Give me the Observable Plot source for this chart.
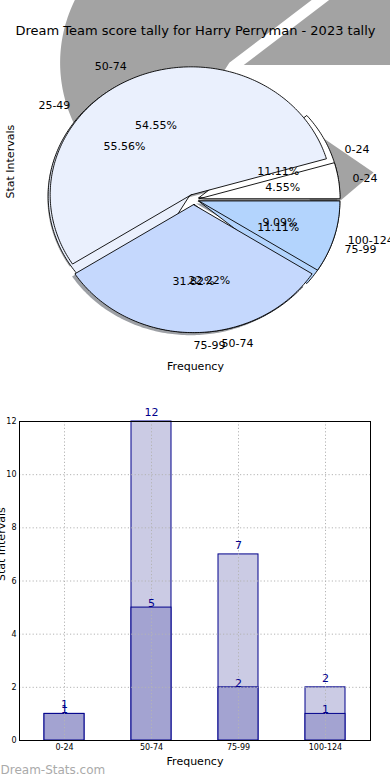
<!DOCTYPE html>
<html><head><meta charset="utf-8">
<script src="https://cdn.jsdelivr.net/npm/d3@7"></script>
<script src="https://cdn.jsdelivr.net/npm/@observablehq/plot@0.6"></script>
<style>
html,body{margin:0;padding:0;background:#fff;overflow:hidden;width:390px;height:780px;}
#pie,#bars{position:absolute;left:0;width:390px;height:390px;overflow:hidden;}
#pie{top:0}#bars{top:390px}
</style></head><body><div id="pie"></div><div id="bars"></div>
<script>
// ---------- data ----------
const categories = ["0-24", "50-74", "75-99", "100-124"];
const seasonTally = [1, 12, 7, 2];      // lighter bars, outer pie (22 scores)
const recentTally = [1, 5, 2, 1];       // darker bars, inner pie (9 scores)
const pieLabelsSeason = ["0-24", "50-74", "75-99", "100-124"];
const pieLabelsRecent = ["0-24", "25-49", "50-74", "75-99"];
const wedgeColors = ["#ffffff", "#eaf0fd", "#c5d8fd", "#b3d4fd"];
const yTicks = [0, 2, 4, 6, 8, 10, 12];
const title = "Dream Team score tally for Harry Perryman - 2023 tally";
const xLabel = "Frequency";
const yLabel = "Stat Intervals";
const watermark = "Dream-Stats.com";

const FONT = "DejaVu Sans, sans-serif";

// ---------- pie geometry (unit circle coordinates) ----------
function wedges(values, {cx = 0, cy = 0, s = 1, explode = 0, a0 = 0, span = 360} = {}) {
  const total = d3.sum(values);
  let acc = 0;
  return values.map((v, i) => {
    const t1 = a0 + acc / total * span; acc += v; const t2 = a0 + acc / total * span;
    const mid = (t1 + t2) / 2 * Math.PI / 180;
    const ox = cx + explode * s * Math.cos(mid), oy = cy + explode * s * Math.sin(mid);
    const pts = [[ox, oy]];
    const n = Math.max(2, Math.ceil(Math.abs(t2 - t1)));
    for (let k = 0; k <= n; k++) {
      const a = (t1 + (t2 - t1) * k / n) * Math.PI / 180;
      pts.push([ox + s * Math.cos(a), oy + s * Math.sin(a)]);
    }
    pts.push([ox, oy]);
    return {i, v, frac: v / total, t1, t2, mid, ox, oy, pts};
  });
}

const EXP = 0.04;
const pieSeason = wedges(seasonTally, {explode: EXP});
const pieRecent = wedges(recentTally, {explode: EXP});
// the recent pie's shadow is displaced: enlarged at the top and a reflected sliver at the right
const recentFrac0 = recentTally[0] / d3.sum(recentTally);
const bigShadow = wedges(recentTally, {cx: 0.30, cy: 1.03, s: 1.2, explode: 0.05}).slice(0, 2);
const tipShadow = wedges([recentTally[0]], {cx: 1.277, cy: 0.211, s: 0.5, a0: 183 - recentFrac0 * 360, span: 2 * recentFrac0 * 360});

function shade(c) { const r = d3.rgb(c); return d3.rgb(r.r * 0.3, r.g * 0.3, r.b * 0.3).formatHex(); }
const lineXY = {x: d => d[0], y: d => d[1]};

const wedgeMarks = [];
for (const w of bigShadow) wedgeMarks.push(Plot.line(w.pts, {...lineXY, fill: "#a3a3a3", stroke: "none"}));
for (const w of tipShadow) wedgeMarks.push(Plot.line(w.pts, {...lineXY, fill: "#a3a3a3", stroke: "none"}));
for (const w of pieSeason) {
  const pts = w.pts.map(([x, y]) => [x - 0.02, y - 0.02]);
  wedgeMarks.push(Plot.line(pts, {...lineXY, fill: shade(wedgeColors[w.i]), fillOpacity: 0.5, stroke: "none"}));
}
for (const w of pieRecent) wedgeMarks.push(Plot.line(w.pts, {...lineXY, fill: wedgeColors[w.i], stroke: "black", strokeWidth: 0.9}));
for (const w of pieSeason) wedgeMarks.push(Plot.line(w.pts, {...lineXY, fill: wedgeColors[w.i], stroke: "black", strokeWidth: 0.9}));

function labelRows(ws, names) {
  return ws.map(w => ({
    x: w.ox + 1.1 * Math.cos(w.mid), y: w.oy + 1.1 * Math.sin(w.mid), text: names[w.i],
    px: w.ox + 0.6 * Math.cos(w.mid), py: w.oy + 0.6 * Math.sin(w.mid), pct: (w.frac * 100).toFixed(2) + "%"
  }));
}
const labels = [...labelRows(pieRecent, pieLabelsRecent), ...labelRows(pieSeason, pieLabelsSeason)];

const C = {cx: 193, cy: 199, rx: 141, ry: 128};
const piePlot = Plot.plot({
  width: 390, height: 390, margin: 0,
  x: {domain: [-C.cx / C.rx, (390 - C.cx) / C.rx], axis: null},
  y: {domain: [(C.cy - 390) / C.ry, C.cy / C.ry], axis: null},
  style: {fontFamily: FONT, fontSize: "11px", overflow: "hidden", background: "white"},
  marks: [
    ...wedgeMarks,
    Plot.text(labels.filter(d => d.x > -1e-6), {x: "x", y: "y", text: "text", textAnchor: "start", fontSize: 11, fill: "black"}),
    Plot.text(labels.filter(d => d.x <= -1e-6), {x: "x", y: "y", text: "text", textAnchor: "end", fontSize: 11, fill: "black"}),
    Plot.text(labels, {x: "px", y: "py", text: "pct", fontSize: 11, fill: "black"}),
    Plot.text([title], {frameAnchor: "top", lineAnchor: "middle", dy: 30, text: d => d, fontSize: 13, fill: "black"}),
    Plot.text([xLabel], {frameAnchor: "bottom", lineAnchor: "middle", dy: -24, text: d => d, fontSize: 11, fill: "black"}),
    Plot.text([yLabel], {frameAnchor: "left", lineAnchor: "middle", dx: 10, dy: 3, rotate: -90, text: d => d, fontSize: 11, fill: "black"})
  ]
});
document.getElementById("pie").appendChild(piePlot);

// ---------- bar chart ----------
const lightRows = categories.map((c, i) => ({cat: c, v: seasonTally[i]}));
const darkRows = categories.map((c, i) => ({cat: c, v: recentTally[i]}));
const navy = "#00008b";
const grid = {stroke: "#b4b4b4", strokeDasharray: "1.2,2.2", strokeWidth: 1};
const barPlot = Plot.plot({
  width: 390, height: 390, marginTop: 31, marginBottom: 40, marginLeft: 19, marginRight: 20,
  style: {fontFamily: FONT, fontSize: "8px", overflow: "hidden", background: "white"},
  x: {type: "band", domain: categories, paddingInner: 0.545, paddingOuter: 0.2725, label: null, tickSize: 0, tickPadding: 4},
  y: {domain: [0, 12], ticks: yTicks, label: null, tickSize: 0, tickPadding: 3},
  marks: [
    Plot.barY(lightRows, {x: "cat", y: "v", fill: "#cbcbe4", stroke: navy, strokeWidth: 1}),
    Plot.barY(darkRows, {x: "cat", y: "v", fill: "#a3a3d1", stroke: navy, strokeWidth: 1}),
    Plot.ruleY(yTicks.slice(1, -1), {y: d => d, ...grid}),
    Plot.gridX({...grid, strokeOpacity: 1}),
    Plot.text(lightRows, {x: "cat", y: "v", text: d => String(d.v), dy: -9, fill: navy, fontSize: 11}),
    Plot.text(darkRows, {x: "cat", y: "v", text: d => String(d.v), dy: -4, fill: navy, fontSize: 11}),
    Plot.frame({stroke: "black", strokeWidth: 1}),
    Plot.text([xLabel], {frameAnchor: "bottom", lineAnchor: "middle", dy: 21, text: d => d, fontSize: 11, fill: "black"}),
    Plot.text([yLabel], {frameAnchor: "left", lineAnchor: "middle", dx: -18, rotate: -90, text: d => d, fontSize: 11, fill: "black"}),
    Plot.text([watermark], {frameAnchor: "bottom-left", lineAnchor: "middle", dx: -19, dy: 30, textAnchor: "start", text: d => d, fontSize: 12, fill: "#aaaaaa"})
  ]
});
document.getElementById("bars").appendChild(barPlot);
</script></body></html>
